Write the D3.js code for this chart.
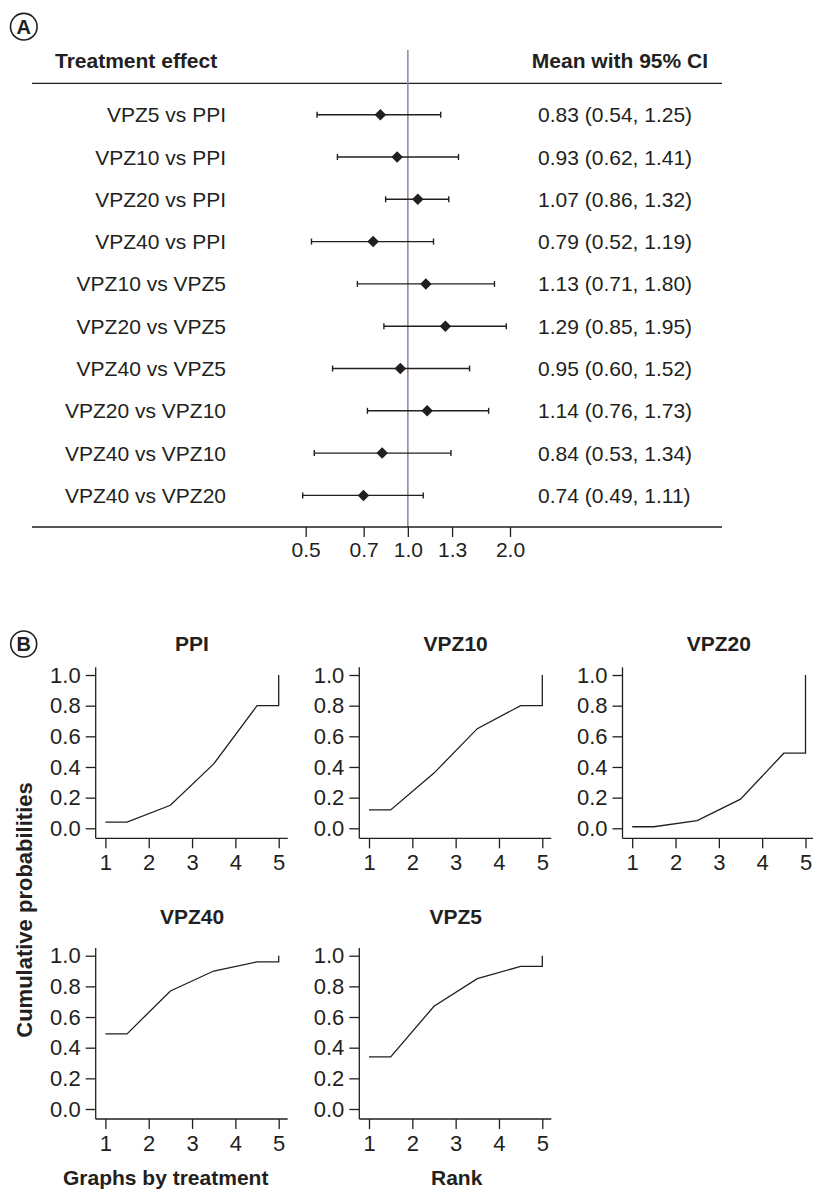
<!DOCTYPE html>
<html><head><meta charset="utf-8">
<script src="https://cdn.jsdelivr.net/npm/d3@7"></script>
<style>
body{margin:0;background:#fff}
svg text{font-family:"Liberation Sans",Arial,Helvetica,sans-serif;fill:#231f20}
</style>
</head><body><svg id="c" width="813" height="1193"></svg>
<script>
// ---------- Panel A data ----------
const comparisons = ["VPZ5 vs PPI","VPZ10 vs PPI","VPZ20 vs PPI","VPZ40 vs PPI","VPZ10 vs VPZ5",
  "VPZ20 vs VPZ5","VPZ40 vs VPZ5","VPZ20 vs VPZ10","VPZ40 vs VPZ10","VPZ40 vs VPZ20"];
const means  = [0.83, 0.93, 1.07, 0.79, 1.13, 1.29, 0.95, 1.14, 0.84, 0.74];
const lowers = [0.54, 0.62, 0.86, 0.52, 0.71, 0.85, 0.60, 0.76, 0.53, 0.49];
const uppers = [1.25, 1.41, 1.32, 1.19, 1.80, 1.95, 1.52, 1.73, 1.34, 1.11];
const forestTicks = [0.5, 0.741, 1, 1.35, 2];
const forestTickLabels = ["0.5", "0.7", "1.0", "1.3", "2.0"];

// ---------- Panel B data ----------
const treatments = ["PPI", "VPZ10", "VPZ20", "VPZ40", "VPZ5"];
const ranks = [1, 2, 3, 4, 5];
const cumPPI   = [0.04, 0.15, 0.42, 0.80, 1.00];
const cumVPZ10 = [0.12, 0.36, 0.65, 0.80, 1.00];
const cumVPZ20 = [0.01, 0.05, 0.19, 0.49, 1.00];
const cumVPZ40 = [0.49, 0.77, 0.90, 0.96, 1.00];
const cumVPZ5  = [0.34, 0.67, 0.85, 0.93, 1.00];
const probTicks = [0, 0.2, 0.4, 0.6, 0.8, 1.0];

const INK = "#231f20";
const svg = d3.select("#c");

function circled(cx, cy, r, letter) {
  svg.append("circle").attr("cx", cx).attr("cy", cy).attr("r", r)
    .attr("fill", "none").attr("stroke", INK).attr("stroke-width", 1.6);
  svg.append("text").attr("x", cx).attr("y", cy).attr("dy", "0.36em")
    .attr("text-anchor", "middle").style("font-size", "20px").style("font-weight", "bold").text(letter);
}

// ================= Panel A =================
circled(23.8, 26.7, 13.3, "A");
const fx = d3.scaleLog().domain([0.5, 2]).range([305.7, 510]);
const fy = d3.scalePoint().domain(comparisons).range([114.7, 495.4]);
const FS = "21px";

svg.append("text").attr("x", 55).attr("y", 68).style("font-size", FS).style("font-weight", "bold").text("Treatment effect");
svg.append("text").attr("x", 708).attr("y", 68).attr("text-anchor", "end").style("font-size", FS).style("font-weight", "bold").text("Mean with 95% CI");

svg.append("line").attr("x1", 32).attr("x2", 722).attr("y1", 83.3).attr("y2", 83.3).attr("stroke", INK).attr("stroke-width", 1.3);
svg.append("line").attr("x1", fx(1)).attr("x2", fx(1)).attr("y1", 50).attr("y2", 527)
  .attr("stroke", "#9c86a9").attr("stroke-width", 1.6);

const rows = svg.append("g");
comparisons.forEach((c, i) => {
  const y = fy(c);
  rows.append("text").attr("x", 226).attr("y", y).attr("dy", "0.36em").attr("text-anchor", "end")
    .style("font-size", FS).text(c);
  rows.append("line").attr("x1", fx(lowers[i])).attr("x2", fx(uppers[i])).attr("y1", y).attr("y2", y)
    .attr("stroke", INK).attr("stroke-width", 1.4);
  [lowers[i], uppers[i]].forEach(v => rows.append("line").attr("x1", fx(v)).attr("x2", fx(v))
    .attr("y1", y - 3).attr("y2", y + 3).attr("stroke", INK).attr("stroke-width", 1.4));
  rows.append("path").attr("d", d3.symbol(d3.symbolDiamond2, 85)())
    .attr("transform", `translate(${fx(means[i])},${y})`).attr("fill", INK);
  rows.append("text").attr("x", 538).attr("y", y).attr("dy", "0.36em").style("font-size", FS)
    .text(`${means[i].toFixed(2)} (${lowers[i].toFixed(2)}, ${uppers[i].toFixed(2)})`);
});

const fAxis = svg.append("g").attr("transform", "translate(0,527)")
  .call(d3.axisBottom(fx).tickValues(forestTicks).tickFormat((d, i) => forestTickLabels[i])
    .tickSize(10).tickSizeOuter(0).tickPadding(5));
fAxis.select(".domain").remove();
fAxis.selectAll(".tick line").attr("stroke", INK).attr("stroke-width", 1.3);
fAxis.selectAll(".tick text").style("font-size", FS).attr("fill", INK);
svg.append("line").attr("x1", 32).attr("x2", 722).attr("y1", 527).attr("y2", 527).attr("stroke", INK).attr("stroke-width", 1.3);

// ================= Panel B =================
circled(23.7, 644, 13, "B");
const seriesValues = { "PPI": cumPPI, "VPZ10": cumVPZ10, "VPZ20": cumVPZ20, "VPZ40": cumVPZ40, "VPZ5": cumVPZ5 };
const colAxisX = [95.7, 359.3, 622.5];
const rowZeroY = [828.3, 1109];
const rowTitleY = [651, 924];
const TFS = "22px";

treatments.forEach((t, k) => {
  const col = k % 3, row = Math.floor(k / 3);
  const ax = colAxisX[col];
  const x = d3.scaleLinear().domain([1, 5]).range([ax + 9.7, ax + 183]);
  const y = d3.scaleLinear().domain([0, 1]).range([rowZeroY[row], rowZeroY[row] - 153.3]);
  const baseY = rowZeroY[row] + 10;
  const g = svg.append("g");

  g.append("text").attr("x", (x(1) + x(5)) / 2).attr("y", rowTitleY[row]).attr("text-anchor", "middle")
    .style("font-size", "21px").style("font-weight", "bold").text(t);

  const ya = g.append("g").attr("transform", `translate(${ax},0)`)
    .call(d3.axisLeft(y).tickValues(probTicks).tickFormat(d3.format(".1f")).tickSize(10).tickSizeOuter(0).tickPadding(5));
  ya.select(".domain").remove();
  g.append("line").attr("x1", ax).attr("x2", ax).attr("y1", y(1.05)).attr("y2", baseY).attr("stroke", INK).attr("stroke-width", 1.3);

  const xa = g.append("g").attr("transform", `translate(0,${baseY})`)
    .call(d3.axisBottom(x).tickValues(ranks).tickFormat(d3.format("d")).tickSize(10).tickSizeOuter(0).tickPadding(6.4));
  xa.select(".domain").remove();
  g.append("line").attr("x1", ax).attr("x2", ax + 192).attr("y1", baseY).attr("y2", baseY).attr("stroke", INK).attr("stroke-width", 1.3);

  [ya, xa].forEach(a => {
    a.selectAll(".tick line").attr("stroke", INK).attr("stroke-width", 1.3);
    a.selectAll(".tick text").style("font-size", TFS).attr("fill", INK);
  });

  const v = seriesValues[t];
  const pts = [[1, v[0]], [1.5, v[0]], [2.5, v[1]], [3.5, v[2]], [4.5, v[3]], [5, v[3]], [5, v[4]]];
  g.append("path").attr("d", d3.line().x(d => x(d[0])).y(d => y(d[1]))(pts))
    .attr("fill", "none").attr("stroke", INK).attr("stroke-width", 1.3);
});

svg.append("text").attr("transform", "translate(32,910) rotate(-90)").attr("text-anchor", "middle")
  .style("font-size", "22px").style("font-weight", "bold").text("Cumulative probabilities");
svg.append("text").attr("x", 63).attr("y", 1185).style("font-size", "21px").style("font-weight", "bold").text("Graphs by treatment");
svg.append("text").attr("x", 456.7).attr("y", 1185).attr("text-anchor", "middle").style("font-size", "21px").style("font-weight", "bold").text("Rank");
</script>
</body></html>
